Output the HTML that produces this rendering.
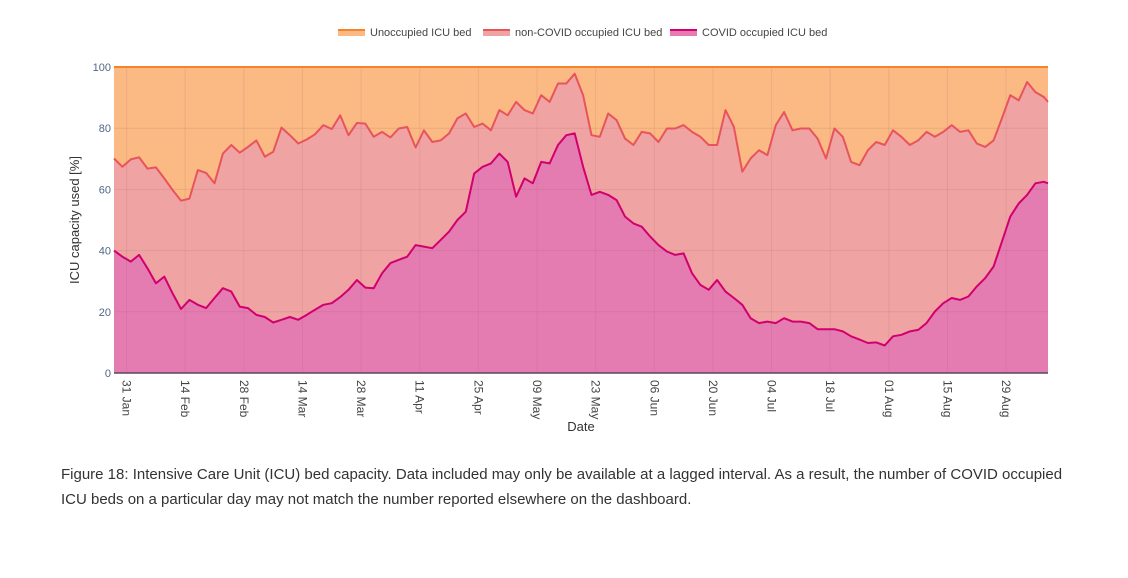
<!DOCTYPE html>
<html><head><meta charset="utf-8">
<style>
body{margin:0;background:#fff;width:1128px;height:578px;overflow:hidden;font-family:"Liberation Sans",sans-serif;}
#cap{position:absolute;left:61px;top:462px;width:1020px;font-size:15px;line-height:25px;color:#333;}
</style></head><body>
<svg id="chart" width="1128" height="460" style="position:absolute;left:0;top:0" xmlns="http://www.w3.org/2000/svg"></svg>
<div id="cap">Figure 18: Intensive Care Unit (ICU) bed capacity. Data included may only be available at a lagged interval. As a result, the number of COVID occupied ICU beds on a particular day may not match the number reported elsewhere on the dashboard.</div>
<script>
// day index (days since 28 Jan), every 2 days
const days = [0,2,4,6,8,10,12,14,16,18,20,22,24,26,28,30,32,34,36,38,40,42,44,46,48,50,52,54,56,58,60,62,64,66,68,70,72,74,76,78,80,82,84,86,88,90,92,94,96,98,100,102,104,106,108,110,112,114,116,118,120,122,124,126,128,130,132,134,136,138,140,142,144,146,148,150,152,154,156,158,160,162,164,166,168,170,172,174,176,178,180,182,184,186,188,190,192,194,196,198,200,202,204,206,208,210,212,214,216,218,220,222,223];
// total occupied (COVID + non-COVID) %
const occupied = [70.1,67.4,69.8,70.5,66.8,67.2,63.6,59.8,56.3,57,66.3,65.4,62,71.7,74.5,72,73.9,76,70.7,72.3,80.2,77.7,75,76.3,78,81,79.7,84.2,77.7,81.7,81.5,77.2,78.8,77,79.9,80.4,73.7,79.3,75.5,76,78.3,83.2,84.8,80.4,81.5,79.3,85.9,84.2,88.6,85.9,84.8,90.8,88.6,94.6,94.6,97.8,90.8,77.7,77.2,84.8,82.6,76.6,74.5,78.8,78.3,75.5,79.9,79.9,81,78.8,77.2,74.5,74.5,85.9,80.4,65.8,70.1,72.8,71.2,81,85.3,79.3,79.9,79.9,76.6,70.1,79.9,77.2,69,67.9,72.8,75.5,74.5,79.3,77.2,74.5,76,78.8,77.2,78.8,81,78.8,79.3,75,73.9,76,83.2,90.8,89.1,95.1,91.8,90.2,88.6];
// COVID occupied %
const covid = [40,38,36.4,38.6,34.2,29.3,31.5,26,20.9,23.9,22.3,21.2,24.5,27.7,26.6,21.7,21.2,19,18.3,16.5,17.4,18.3,17.4,19,20.7,22.3,22.8,24.8,27.2,30.4,27.9,27.7,32.6,35.9,37,38,41.8,41.3,40.8,43.5,46.2,50,52.7,65.2,67.4,68.5,71.7,69,57.6,63.6,62,69,68.5,74.5,77.7,78.3,67.4,58.2,59.2,58.2,56.5,51.1,48.9,47.8,44.6,41.8,39.7,38.6,39.1,32.6,28.8,27.2,30.4,26.6,24.5,22.3,17.9,16.3,16.8,16.3,17.9,16.8,16.8,16.3,14.3,14.3,14.3,13.6,12,10.9,9.8,10,9,12,12.5,13.6,14.1,16.3,20.1,22.8,24.5,23.9,25,28.3,31,34.8,42.9,51.1,55.4,58.2,62,62.5,62];
const tickDays = [3,17,31,45,59,73,87,101,115,129,143,157,171,185,199,213];
const tickLabels = ["31 Jan","14 Feb","28 Feb","14 Mar","28 Mar","11 Apr","25 Apr","09 May","23 May","06 Jun","20 Jun","04 Jul","18 Jul","01 Aug","15 Aug","29 Aug"];
const yTicks = [0,20,40,60,80,100];
const legendLabels = ["Unoccupied ICU bed","non-COVID occupied ICU bed","COVID occupied ICU bed"];

const NS="http://www.w3.org/2000/svg";
const svg=document.getElementById('chart');
const X0=114, X1=1048, Y0=373, Y1=67;
const maxDay=223;
const xs=d=>X0+(X1-X0)*d/maxDay;
const ys=v=>Y0-(Y0-Y1)*v/100;
function mk(tag,attrs,parent){const e=document.createElementNS(NS,tag);for(const k in attrs)e.setAttribute(k,attrs[k]);(parent||svg).appendChild(e);return e;}

// unoccupied area (full rect)
const bg=mk('rect',{x:X0,y:Y1,width:X1-X0,height:Y0-Y1,fill:'#fbb984'});



function linePts(arr){return days.map((d,i)=>xs(d).toFixed(1)+','+ys(arr[i]).toFixed(1)).join(' ');}
const occArea=mk('polygon',{points:xs(0)+','+Y0+' '+linePts(occupied)+' '+xs(maxDay)+','+Y0,fill:'#f0a3a3'});


const covArea=mk('polygon',{points:xs(0)+','+Y0+' '+linePts(covid)+' '+xs(maxDay)+','+Y0,fill:'#e47cb2'});



// gridlines
yTicks.forEach(v=>{
  if(v>0&&v<100){const g=mk('line',{x1:X0,x2:X1,y1:ys(v),y2:ys(v),stroke:'rgba(150,80,80,0.15)','stroke-width':1});
  
  }
  const t=mk('text',{x:X0-3,y:ys(v)+4,'text-anchor':'end','font-size':11,fill:'#506784'});
  t.textContent=v;
  
  
});
tickDays.forEach((d,i)=>{
  const g=mk('line',{x1:xs(d),x2:xs(d),y1:Y1,y2:Y0,stroke:'rgba(150,80,80,0.12)','stroke-width':1});
  
  
  const t=mk('text',{x:0,y:0,transform:`translate(${xs(d)-4},380) rotate(90)`,'font-size':12,fill:'#444'});
  t.textContent=tickLabels[i];
  
  
});

// lines
const topL=mk('line',{x1:X0,x2:X1,y1:Y1,y2:Y1,stroke:'#f5832b','stroke-width':2});


const occL=mk('polyline',{points:linePts(occupied),fill:'none',stroke:'#e8545c','stroke-width':2,'stroke-linejoin':'round'});


const covL=mk('polyline',{points:linePts(covid),fill:'none',stroke:'#d1006e','stroke-width':2,'stroke-linejoin':'round'});


const ax=mk('line',{x1:X0,x2:X1,y1:Y0,y2:Y0,stroke:'#5a4a5a','stroke-width':1.5});



// axis titles
const yt=mk('text',{x:0,y:0,transform:'translate(79,220) rotate(-90)','text-anchor':'middle','font-size':13,fill:'#333'});
yt.textContent='ICU capacity used [%]';


const xt=mk('text',{x:581,y:431,'text-anchor':'middle','font-size':13,fill:'#333'});
xt.textContent='Date';



// legend
const legX=[338,483,670];
const legFill=['#fbb984','#f0a3a3','#e47cb2'];
const legLine=['#f5832b','#e8545c','#d1006e'];
legendLabels.forEach((lab,i)=>{
  const g=mk('g',{});
  
  
  mk('rect',{x:legX[i],y:29,width:27,height:7,fill:legFill[i]},g);
  mk('line',{x1:legX[i],x2:legX[i]+27,y1:30,y2:30,stroke:legLine[i],'stroke-width':2},g);
  const t=mk('text',{x:legX[i]+32,y:36,'font-size':11,fill:'#444'},g);
  t.textContent=lab;
});
</script>
</body></html>
